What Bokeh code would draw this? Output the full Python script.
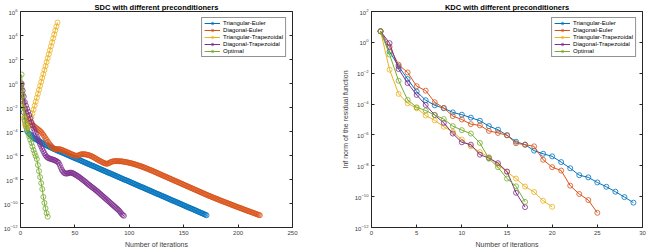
from bokeh.plotting import figure
from bokeh.layouts import row
from bokeh.models import LogAxis, FixedTicker, Range1d
from bokeh.embed import file_html
from bokeh.resources import INLINE

names = ["Triangular-Euler", "Diagonal-Euler", "Triangular-Trapezoidal",
         "Diagonal-Trapezoidal", "Optimal"]
colors = ["#0072BD", "#D95319", "#EDB120", "#7E2F8E", "#77AC30"]

# SDC: log10 of the inf-norm residual, one entry per iteration (starting at 1)
sdc_tri_euler = [
    -0.40, -1.50, -2.40, -3.10, -3.60, -3.95, -4.10, -4.20, -4.28, -4.36,
    -4.44, -4.52, -4.58, -4.63, -4.69, -4.74, -4.80, -4.85, -4.90, -4.96,
    -5.01, -5.06, -5.10, -5.15, -5.20, -5.25, -5.29, -5.34, -5.38, -5.43,
    -5.47, -5.51, -5.55, -5.59, -5.63, -5.67, -5.70, -5.74, -5.78, -5.82,
    -5.86, -5.90, -5.94, -5.98, -6.02, -6.06, -6.10, -6.14, -6.18, -6.22,
    -6.26, -6.29, -6.33, -6.37, -6.41, -6.45, -6.49, -6.53, -6.57, -6.61,
    -6.65, -6.69, -6.73, -6.77, -6.81, -6.85, -6.88, -6.92, -6.96, -7.00,
    -7.04, -7.08, -7.12, -7.16, -7.20, -7.24, -7.28, -7.32, -7.36, -7.40,
    -7.44, -7.47, -7.51, -7.55, -7.59, -7.63, -7.67, -7.71, -7.75, -7.79,
    -7.83, -7.87, -7.91, -7.95, -7.99, -8.03, -8.06, -8.10, -8.14, -8.18,
    -8.22, -8.26, -8.30, -8.34, -8.38, -8.42, -8.46, -8.50, -8.54, -8.58,
    -8.62, -8.65, -8.69, -8.73, -8.77, -8.81, -8.85, -8.89, -8.93, -8.97,
    -9.01, -9.05, -9.09, -9.13, -9.17, -9.21, -9.24, -9.28, -9.32, -9.36,
    -9.40, -9.44, -9.48, -9.52, -9.56, -9.60, -9.64, -9.68, -9.72, -9.76,
    -9.80, -9.83, -9.87, -9.91, -9.95, -9.99, -10.03, -10.07, -10.11, -10.15,
    -10.19, -10.23, -10.27, -10.31, -10.35, -10.39, -10.42, -10.46, -10.50, -10.54,
    -10.58, -10.62, -10.66, -10.70, -10.74, -10.78, -10.82, -10.86, -10.90, -10.94,
    -10.98,
]
sdc_diag_euler = [
    -0.10, -0.90, -1.60, -2.10, -2.50, -2.75, -2.95, -3.10, -3.22, -3.33,
    -3.43, -3.52, -3.60, -3.68, -3.75, -3.82, -3.89, -3.96, -4.05, -4.16,
    -4.28, -4.42, -4.56, -4.70, -4.84, -4.97, -5.09, -5.20, -5.30, -5.38,
    -5.43, -5.46, -5.47, -5.47, -5.47, -5.48, -5.50, -5.53, -5.57, -5.61,
    -5.65, -5.69, -5.73, -5.77, -5.81, -5.85, -5.89, -5.93, -5.97, -6.00,
    -6.02, -6.02, -6.00, -5.96, -5.92, -5.90, -5.89, -5.89, -5.90, -5.91,
    -5.93, -5.95, -5.98, -6.01, -6.05, -6.09, -6.14, -6.19, -6.24, -6.30,
    -6.35, -6.40, -6.45, -6.50, -6.55, -6.60, -6.64, -6.67, -6.68, -6.68,
    -6.65, -6.60, -6.55, -6.51, -6.49, -6.48, -6.47, -6.47, -6.47, -6.47,
    -6.48, -6.48, -6.49, -6.50, -6.52, -6.53, -6.55, -6.57, -6.59, -6.61,
    -6.63, -6.65, -6.68, -6.70, -6.73, -6.76, -6.79, -6.82, -6.85, -6.88,
    -6.91, -6.94, -6.98, -7.01, -7.05, -7.08, -7.12, -7.16, -7.19, -7.23,
    -7.27, -7.31, -7.35, -7.39, -7.43, -7.47, -7.51, -7.55, -7.59, -7.63,
    -7.67, -7.71, -7.75, -7.79, -7.83, -7.87, -7.91, -7.95, -7.99, -8.03,
    -8.07, -8.11, -8.15, -8.19, -8.23, -8.27, -8.31, -8.35, -8.39, -8.43,
    -8.47, -8.51, -8.55, -8.59, -8.63, -8.67, -8.71, -8.75, -8.79, -8.83,
    -8.87, -8.91, -8.95, -8.99, -9.03, -9.07, -9.11, -9.15, -9.19, -9.23,
    -9.27, -9.31, -9.35, -9.38, -9.42, -9.46, -9.50, -9.53, -9.57, -9.61,
    -9.64, -9.68, -9.72, -9.75, -9.79, -9.82, -9.86, -9.89, -9.93, -9.96,
    -10.00, -10.03, -10.07, -10.10, -10.14, -10.17, -10.21, -10.24, -10.28, -10.31,
    -10.35, -10.38, -10.41, -10.45, -10.48, -10.52, -10.55, -10.58, -10.62, -10.65,
    -10.68, -10.72, -10.75, -10.78, -10.82, -10.85, -10.88, -10.92, -10.95, -10.98,
]
sdc_tri_trap = [
    -0.60, -1.80, -2.90, -3.40, -3.60, -3.70, -3.60, -3.45, -3.15, -2.82,
    -2.50, -2.18, -1.85, -1.52, -1.19, -0.86, -0.53, -0.20, 0.13, 0.46,
    0.79, 1.12, 1.45, 1.78, 2.11, 2.44, 2.77, 3.10, 3.43, 3.76,
    4.09, 4.42, 4.75, 5.08,
]
sdc_diag_trap = [
    0.00, -0.60, -1.10, -1.55, -1.85, -2.10, -2.35, -2.62, -2.92, -3.22,
    -3.50, -3.75, -3.98, -4.20, -4.42, -4.63, -4.84, -5.05, -5.25, -5.45,
    -5.64, -5.82, -5.98, -6.10, -6.18, -6.23, -6.26, -6.29, -6.32, -6.35,
    -6.38, -6.42, -6.47, -6.52, -6.60, -6.78, -7.00, -7.20, -7.34, -7.44,
    -7.49, -7.51, -7.50, -7.47, -7.44, -7.43, -7.44, -7.47, -7.52, -7.57,
    -7.63, -7.68, -7.74, -7.80, -7.87, -7.94, -8.01, -8.08, -8.15, -8.22,
    -8.30, -8.38, -8.45, -8.52, -8.59, -8.66, -8.73, -8.80, -8.87, -8.94,
    -9.02, -9.10, -9.18, -9.26, -9.34, -9.42, -9.50, -9.58, -9.66, -9.74,
    -9.82, -9.90, -9.98, -10.06, -10.14, -10.22, -10.30, -10.38, -10.46, -10.54,
    -10.64, -10.75, -10.87, -10.96, -11.02,
]
sdc_optimal = [
    0.75, -1.00, -2.00, -2.80, -3.40, -3.80, -4.10, -4.40, -4.68, -4.95,
    -5.25, -5.55, -5.82, -6.05, -6.30, -6.80, -7.30, -7.80, -8.30, -8.80,
    -9.45, -9.95, -10.40, -10.80, -11.10,
]

# KDC: log10 of the inf-norm residual, one entry per iteration (starting at 1)
kdc_tri_euler = [
    0.72, -0.60, -1.55, -2.38, -3.19, -3.75, -4.08, -4.27, -4.54, -4.69,
    -4.88, -5.08, -5.43, -5.66, -6.02, -6.44, -6.63, -7.02, -7.22, -7.39,
    -7.76, -8.16, -8.61, -8.75, -9.08, -9.36, -9.68, -10.03, -10.39,
]
kdc_diag_euler = [
    0.72, -0.30, -1.45, -1.95, -2.84, -3.13, -3.88, -4.25, -4.78, -5.00,
    -5.30, -5.38, -5.74, -5.87, -6.02, -6.54, -6.63, -6.74, -7.61, -8.09,
    -8.31, -9.29, -9.83, -10.22, -11.05,
]
kdc_tri_trap = [
    0.72, -1.77, -3.34, -3.95, -4.27, -4.74, -5.06, -5.47, -5.80, -6.30,
    -6.74, -7.11, -7.44, -7.94, -8.40, -8.83, -9.35, -9.70, -10.27, -10.66,
]
kdc_diag_trap = [
    0.72, -0.05, -1.73, -2.64, -3.41, -4.06, -4.71, -5.22, -5.91, -6.48,
    -6.63, -7.28, -7.50, -7.83, -8.37, -9.75, -10.68,
]
kdc_optimal = [
    0.72, -0.79, -2.49, -3.73, -4.21, -4.42, -4.71, -4.97, -5.43, -5.69,
    -5.91, -6.52, -7.54, -8.09, -8.83, -9.33, -10.34,
]

sdc_x_ticks = [0, 50, 100, 150, 200, 250]
sdc_y_ticks = [1e-12, 1e-10, 1e-8, 1e-6, 1e-4, 1e-2, 1e0, 1e2, 1e4, 1e6]
kdc_x_ticks = [0, 5, 10, 15, 20, 25, 30]
kdc_y_ticks = [1e-12, 1e-10, 1e-8, 1e-6, 1e-4, 1e-2, 1e0, 1e2]

FONT = "Liberation Sans"
AX = "#262626"
TXT = "#404040"


def style_axis(ax, ticks):
    ax.ticker = FixedTicker(ticks=ticks)
    ax.axis_line_color = AX
    ax.axis_line_width = 1
    ax.major_tick_line_color = AX
    ax.major_tick_in = 3
    ax.major_tick_out = 0
    ax.minor_tick_line_color = None
    ax.major_label_text_font = FONT
    ax.major_label_text_color = TXT
    ax.major_label_standoff = 3
    ax.major_label_text_font_size = "6px"
    ax.axis_label_text_font = FONT
    ax.axis_label_text_font_size = "7px"
    ax.axis_label_text_font_style = "normal"
    ax.axis_label_text_color = TXT
    ax.axis_label_standoff = 3


def tick_only_axis(ax, ticks):
    # box-side axis: inward ticks, no labels
    ax.ticker = FixedTicker(ticks=ticks)
    ax.axis_line_color = AX
    ax.major_tick_line_color = AX
    ax.major_tick_in = 3
    ax.major_tick_out = 0
    ax.minor_tick_line_color = None
    ax.major_label_text_font_size = "1px"
    ax.major_label_text_alpha = 0
    ax.major_label_standoff = 0


def make_panel(title, series, xmax, xticks, ymin, ymax, yticks, ylabel,
               left, right):
    p = figure(width=323, height=252, y_axis_type="log",
               x_range=Range1d(0, xmax), y_range=Range1d(ymin, ymax),
               output_backend="svg", toolbar_location=None,
               min_border_left=left, min_border_right=right,
               min_border_top=0, min_border_bottom=25,
               background_fill_color="white", border_fill_color="white")
    p.grid.visible = False
    p.outline_line_color = AX
    p.outline_line_width = 1

    p.title.text = title
    p.title.align = "center"
    p.title.text_font = FONT
    p.title.text_font_size = "7.5px"
    p.title.text_font_style = "bold"
    p.title.text_color = "#000000"
    p.title.standoff = 0
    p.title.offset = 0

    style_axis(p.xaxis[0], xticks)
    p.xaxis[0].axis_label = "Number of iterations"
    style_axis(p.yaxis[0], yticks)
    if ylabel:
        p.yaxis[0].axis_label = ylabel

    rgt = LogAxis()
    tick_only_axis(rgt, yticks)
    p.add_layout(rgt, "right")

    for name, color, vals in zip(names, colors, series):
        xs = list(range(1, len(vals) + 1))
        ys = [10.0 ** v for v in vals]
        p.line(xs, ys, line_color=color, line_width=1, legend_label=name)
        p.scatter(xs, ys, marker="circle", size=5, fill_color=None,
                  line_color=color, line_width=0.8, legend_label=name)

    lg = p.legend[0]
    lg.location = "top_right"
    lg.margin = 6
    lg.padding = 2
    lg.spacing = 1
    lg.label_height = 6
    lg.glyph_height = 6
    lg.glyph_width = 16
    lg.label_standoff = 3
    lg.label_text_font = FONT
    lg.label_text_font_size = "6px"
    lg.label_text_color = "#000000"
    lg.border_line_color = AX
    lg.border_line_width = 0.8
    lg.background_fill_color = "white"
    lg.background_fill_alpha = 1
    return p


p1 = make_panel("SDC with different preconditioners",
                [sdc_tri_euler, sdc_diag_euler, sdc_tri_trap, sdc_diag_trap, sdc_optimal],
                250, sdc_x_ticks, 1e-12, 1e6, sdc_y_ticks, None, 20, 31)
p2 = make_panel("KDC with different preconditioners",
                [kdc_tri_euler, kdc_diag_euler, kdc_tri_trap, kdc_diag_trap, kdc_optimal],
                30, kdc_x_ticks, 1e-12, 1e2, kdc_y_ticks,
                "Inf norm of the residual function", 48, 4)

layout = row(p1, p2)
open("out.html", "w").write(file_html(layout, INLINE))
